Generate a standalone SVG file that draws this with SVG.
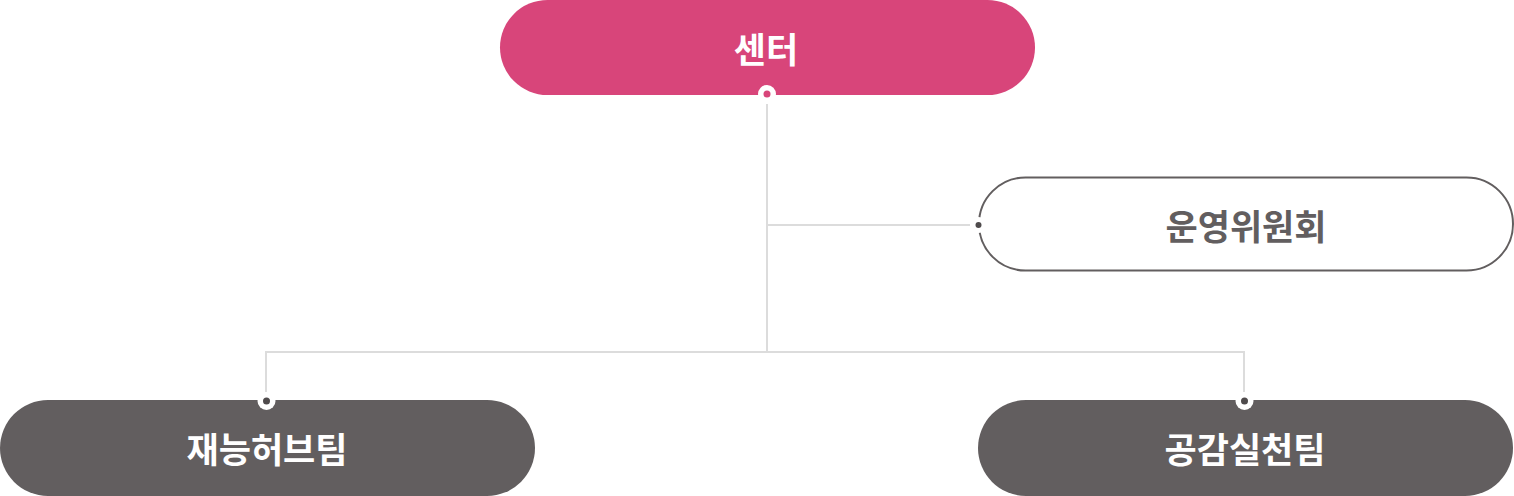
<svg xmlns="http://www.w3.org/2000/svg" width="1514" height="496" viewBox="0 0 1514 496">
<style>
.lbl{font-family:"Noto Sans CJK KR","Noto Sans",sans-serif;font-weight:700;font-size:35px;text-anchor:middle;dominant-baseline:central}
.conn{stroke:#dcdcdc;stroke-width:2;fill:none}
</style>
<rect width="1514" height="496" fill="#ffffff"/>
<g id="connectors">
<path class="conn" d="M767 104V352M266 392V352H1244V392M767 225H970"/>
</g>
<g id="center">
<rect x="500" y="0" width="535" height="95" rx="47.5" fill="#d8457a"/>
<text class="lbl" x="766" y="47" fill="#ffffff">센터</text>
<circle cx="767" cy="94" r="9" fill="#ffffff"/>
<circle cx="767" cy="94" r="3.5" fill="#d8457a"/>
</g>
<g id="committee">
<rect x="979" y="177.5" width="534" height="93" rx="46.5" fill="#ffffff" stroke="#625e5f" stroke-width="2"/>
<circle cx="978.5" cy="225" r="8" fill="#ffffff"/>
<circle cx="978.5" cy="225" r="3" fill="#4f4b4c"/>
<text class="lbl" x="1246" y="224" fill="#625e5f">운영위원회</text>
</g>
<g id="team1">
<rect x="0" y="400" width="535" height="96" rx="48" fill="#625e5f"/>
<circle cx="266.5" cy="401" r="9" fill="#ffffff"/>
<circle cx="266.5" cy="401" r="3.5" fill="#4f4b4c"/>
<text class="lbl" x="267" y="447" fill="#ffffff">재능허브팀</text>
</g>
<g id="team2">
<rect x="978" y="400" width="535" height="96" rx="48" fill="#625e5f"/>
<circle cx="1244.5" cy="401" r="9" fill="#ffffff"/>
<circle cx="1244.5" cy="401" r="3.5" fill="#4f4b4c"/>
<text class="lbl" x="1245" y="447" fill="#ffffff">공감실천팀</text>
</g>
</svg>
